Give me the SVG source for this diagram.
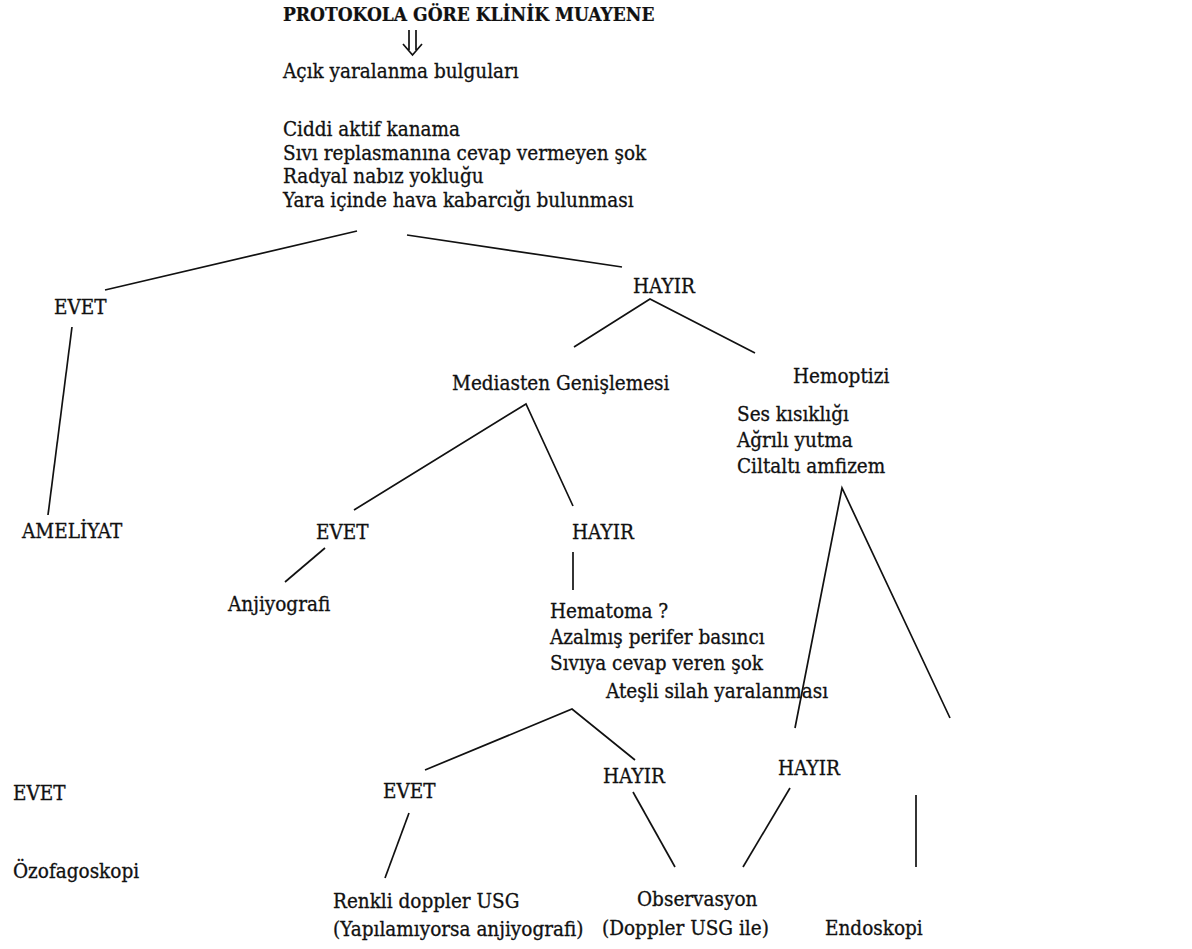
<svg xmlns="http://www.w3.org/2000/svg" width="1192" height="949" viewBox="0 0 1192 949">
<style>
text{font-family:"DejaVu Serif Condensed","DejaVu Serif","Liberation Serif",serif;font-stretch:condensed;font-size:20.5px;fill:#111;stroke:#111;stroke-width:0.3}
.t{font-weight:bold;font-size:19px;stroke-width:0.2}
.c line,.c path{stroke:#111;stroke-width:1.7;fill:none}
</style>
<rect width="1192" height="949" fill="#fff"/>
<g id="root"><text class="t" x="283" y="21">PROTOKOLA GÖRE KLİNİK MUAYENE</text></g>
<g id="acik"><text x="283" y="78">Açık yaralanma bulguları</text></g>
<g id="kriter">
<text x="283" y="136">Ciddi aktif kanama</text>
<text x="283" y="159.5">Sıvı replasmanına cevap vermeyen şok</text>
<text x="283" y="183">Radyal nabız yokluğu</text>
<text x="283" y="206.5">Yara içinde hava kabarcığı bulunması</text>
</g>
<g id="evet1"><text x="54" y="314">EVET</text></g>
<g id="hayir1"><text x="633" y="293">HAYIR</text></g>
<g id="ameliyat"><text x="22" y="538">AMELİYAT</text></g>
<g id="mediasten"><text x="452" y="390">Mediasten Genişlemesi</text></g>
<g id="hemoptizi"><text x="793" y="383">Hemoptizi</text>
<text x="737" y="421">Ses kısıklığı</text>
<text x="737" y="447">Ağrılı yutma</text>
<text x="737" y="473">Ciltaltı amfizem</text></g>
<g id="evet2"><text x="316" y="539">EVET</text></g>
<g id="hayir2"><text x="572" y="539">HAYIR</text></g>
<g id="anjiyografi"><text x="228" y="611">Anjiyografi</text></g>
<g id="hematoma">
<text x="550" y="618">Hematoma ?</text>
<text x="550" y="644">Azalmış perifer basıncı</text>
<text x="550" y="670">Sıvıya cevap veren şok</text>
<text x="606" y="698">Ateşli silah yaralanması</text>
</g>
<g id="evet3"><text x="13" y="800">EVET</text></g>
<g id="ozofagoskopi"><text x="13" y="878">Özofagoskopi</text></g>
<g id="evet4"><text x="383" y="798">EVET</text></g>
<g id="hayir3"><text x="603" y="783">HAYIR</text></g>
<g id="hayir4"><text x="778" y="775">HAYIR</text></g>
<g id="renkli"><text x="333" y="908">Renkli doppler USG</text>
<text x="333" y="936">(Yapılamıyorsa anjiyografi)</text></g>
<g id="observasyon"><text x="637" y="906">Observasyon</text>
<text x="602" y="935">(Doppler USG ile)</text></g>
<g id="endoskopi"><text x="825" y="935">Endoskopi</text></g>
<g id="connectors" class="c">
<path d="M409,30 V50 M416,30 V50 M403,44 L412.5,55 L422,44"/>
<line x1="357" y1="231" x2="105" y2="290"/>
<line x1="407" y1="235" x2="622" y2="267"/>
<line x1="72" y1="327" x2="48" y2="515"/>
<path d="M574,347 L650,299 L755,353"/>
<path d="M354,510 L526,404 L573,506"/>
<line x1="325" y1="548" x2="285" y2="582"/>
<line x1="573" y1="552" x2="573" y2="590"/>
<path d="M795,728 L842,488 L950,718"/>
<path d="M425,770 L572,709 L635,760"/>
<line x1="409" y1="813" x2="385" y2="878"/>
<line x1="633" y1="792" x2="675" y2="867"/>
<line x1="790" y1="788" x2="743" y2="867"/>
<line x1="916" y1="795" x2="916" y2="867"/>
</g>
</svg>
